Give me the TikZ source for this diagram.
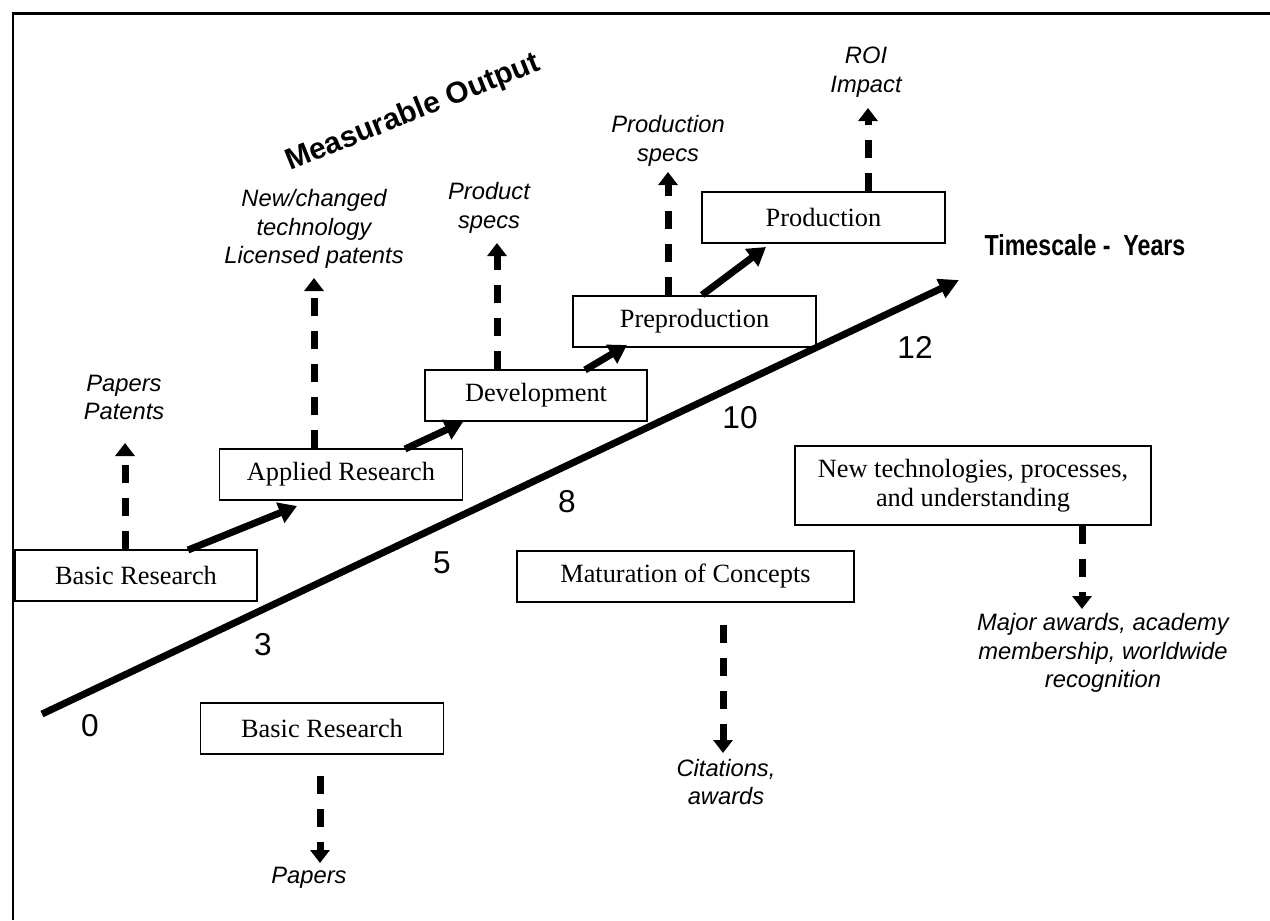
\documentclass[tikz,border=0pt]{standalone}
\usepackage{fontspec}
\setmainfont{Liberation Serif}
\setsansfont{Liberation Sans}
\usetikzlibrary{arrows.meta}

\tikzset{
  stage/.style={draw, line width=0.03cm, minimum width=4.86cm, minimum height=1.02cm,
    inner sep=1pt, align=center, font=\fontsize{15}{16.5}\selectfont},
  yield/.style={align=center, inner sep=0pt, font=\sffamily\itshape\fontsize{13.5}{16.4}\selectfont},
  yearnum/.style={inner sep=0pt, font=\sffamily\fontsize{18}{20}\selectfont},
  flow/.style={line width=0.14cm, -{Triangle[width=0.42cm,length=0.36cm]}},
  outflow/.style={line width=0.14cm, dash pattern=on 0.36cm off 0.3cm,
    -{Triangle[width=0.38cm,length=0.26cm]}},
}

\begin{document}
\begin{tikzpicture}[x=0.02cm, y=-0.02cm]
			%%%%% FRAME %%%%%
			\useasboundingbox (0,0) rectangle (1270,920);
			\draw[line width=0.06cm] (13,920) -- (13,13.5) -- (1270,13.5);
			
			%%%%% HEADINGS %%%%%
			\node[rotate=22, font=\sffamily\bfseries\fontsize{17}{19}\selectfont] (measure) at (413,113) {Measurable Output};
			\node[font=\sffamily\bfseries\fontsize{16.5}{18}\selectfont] (timescale) at (1085,245) {\scalebox{0.8}[1]{Timescale -\ \ Years}};
			
			%%%%% TIME AXIS %%%%%
			\coordinate (axis start) at (42,714);
			\coordinate (axis end) at (959,280);
			\draw[line width=0.14cm, -{Triangle[width=0.4cm,length=0.4cm]}] (axis start) -- (axis end);
			\node[yearnum] (y0) at (90,726) {0};
			\node[yearnum] (y3) at (263,645) {3};
			\node[yearnum] (y5) at (442,563) {5};
			\node[yearnum] (y8) at (567,502) {8};
			\node[yearnum] (y10) at (740,418) {10};
			\node[yearnum] (y12) at (915,347) {12};
			
			%%%%% STAGES %%%%%
			\node[stage, minimum width=4.84cm] (basic) at (136,575.5) {Basic Research};
			\node[stage] (applied) at (341,474.5) {Applied Research};
			\node[stage, minimum width=4.44cm] (dev) at (536,395.5) {Development};
			\node[stage] (preprod) at (694.5,321.5) {Preproduction};
			\node[stage] (prod) at (823.5,217.5) {Production};
			
			\coordinate (b1) at (188,550);  \coordinate (b2) at (297,506);
			\coordinate (a1) at (405,449);  \coordinate (a2) at (463,422);
			\coordinate (d1) at (585,370);  \coordinate (d2) at (627,345);
			\coordinate (p1) at (702,295);  \coordinate (p2) at (766,247);
			\draw[flow] (b1) -- (b2);
			\draw[flow] (a1) -- (a2);
			\draw[flow] (d1) -- (d2);
			\draw[flow] (p1) -- (p2);
			
			%%%%% OUTPUTS ABOVE %%%%%
			\node[yield] (papers) at (124,397.5) {Papers\\Patents};
			\node[yield] (licence) at (314,229) {New/changed\\technology\\Licensed patents};
			\node[yield] (prodspecs) at (489,208) {Product\\specs};
			\node[yield] (mfgspecs) at (668,141) {Production\\specs};
			\node[yield] (roi) at (866,72) {ROI\\Impact};
			
			\coordinate (papers tip) at (125,443);
			\coordinate (licence tip) at (314,278);
			\coordinate (prodspecs tip) at (497,243);
			\coordinate (mfgspecs tip) at (668,172);
			\coordinate (roi tip) at (868,108);
			\draw[outflow] (basic.north -| papers tip) -- (papers tip);
			\draw[outflow] (applied.north -| licence tip) -- (licence tip);
			\draw[outflow] (dev.north -| prodspecs tip) -- (prodspecs tip);
			\draw[outflow] (preprod.north -| mfgspecs tip) -- (mfgspecs tip);
			\draw[outflow] (prod.north -| roi tip) -- (roi tip);
			
			%%%%% RECOGNITION %%%%%
			\node[stage] (basic2) at (322,728.5) {Basic Research};
			\node[stage, minimum width=6.74cm] (mature) at (685.5,576.5) {Maturation of Concepts};
			\node[stage, minimum width=7.12cm, minimum height=1.58cm] (newtech) at (973,485.5) {\raisebox{-0.1cm}{\parbox{7cm}{\centering New technologies, processes,\\and understanding}}};
			
			\node[yield] (papers2) at (309,878) {Papers};
			\node[yield] (citations) at (726,782) {Citations,\\awards};
			\node[yield] (awards) at (1103,653) {Major awards, academy\\membership, worldwide\\recognition};
			
			\coordinate (papers2 top) at (320,776);  \coordinate (papers2 tip) at (320,863);
			\coordinate (citations top) at (723,625); \coordinate (citations tip) at (723,753);
			\coordinate (awards tip) at (1082,609);
			\draw[outflow] (papers2 top) -- (papers2 tip);
			\draw[outflow] (citations top) -- (citations tip);
			\draw[outflow] (newtech.south -| awards tip) -- (awards tip);
			
			%%%%% END %%%%%
\end{tikzpicture}
\end{document}
